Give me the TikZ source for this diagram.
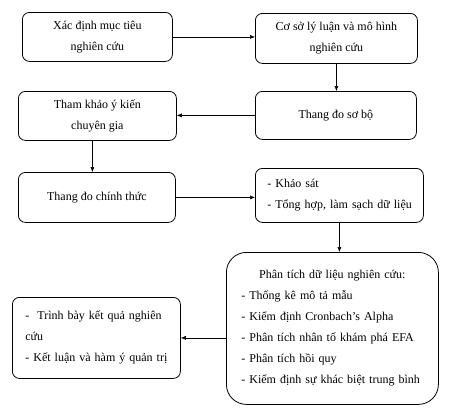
\documentclass[tikz,border=0pt]{standalone}
\usepackage{fontspec}
\setmainfont{Liberation Serif}
\usetikzlibrary{arrows.meta}

\tikzset{
  stage/.style = {
    draw,
    line width = .8pt,
    rounded corners = 7pt,
    anchor = north west,
    align = center,
    font = \fontsize{12}{21}\selectfont
  },
  flow/.style = {-{Latex[length=5pt,width=4pt]}, line width = .5pt}
}

\begin{document}
\begin{tikzpicture}[x=1pt, y=-1pt]
  \useasboundingbox (0,0) rectangle (455,408);

  % The stages, row by row
  \node[stage, minimum width=150pt, minimum height=49pt] (aim)    at (22,12)  {Xác định mục tiêu\\nghiên cứu};
  \node[stage, minimum width=162pt, minimum height=50pt] (theory) at (255,13) {Cơ sở lý luận và mô hình\\nghiên cứu};
  \node[stage, minimum width=161pt, minimum height=48pt] (pilot)  at (255,91) {Thang đo sơ bộ};
  \node[stage, minimum width=158pt, minimum height=49pt] (expert) at (18,91)  {Tham khảo ý kiến\\chuyên gia};
  \node[stage, minimum width=157pt, minimum height=50pt] (final)  at (18,172) {Thang đo chính thức};
  \node[stage, align=left, inner xsep=12pt, text width=144pt,
        minimum height=54pt] (survey) at (255,168)
    {\mbox{- Khảo sát}\\\mbox{- Tổng hợp, làm sạch dữ liệu}};
  \node[stage, align=left, rounded corners=20pt, inner xsep=15pt, text width=182pt,
        minimum height=152pt] (analysis) at (226,252)
    {\makebox[182pt]{Phân tích dữ liệu nghiên cứu:}\\
     \mbox{- Thống kê mô tả mẫu}\\
     \mbox{- Kiểm định Cronbach’s Alpha}\\
     \mbox{- Phân tích nhân tố khám phá EFA}\\
     \mbox{- Phân tích hồi quy}\\
     \mbox{- Kiểm định sự khác biệt trung bình}};
  \node[stage, align=left, inner xsep=13pt, text width=142pt,
        minimum height=81pt] (report) at (12,297)
    {\mbox{-~~Trình bày kết quả nghiên}\\\mbox{cứu}\\\mbox{- Kết luận và hàm ý quản trị}};

  % The arrows between the stages
  \draw[flow] (aim.east) -- (aim.east -| theory.west);
  \draw[flow] (theory.south) -- (theory.south |- pilot.north);
  \draw[flow] (pilot.west) -- (pilot.west -| expert.east);
  \draw[flow] ([xshift=-5pt]expert.south) -- ([xshift=-5pt]expert.south |- final.north);
  \draw[flow] (final.east) -- (final.east -| survey.west);
  \draw[flow] (survey.south) -- (survey.south |- analysis.north);
  \draw[flow] (analysis.west |- report.east) -- (report.east);
\end{tikzpicture}
\end{document}
